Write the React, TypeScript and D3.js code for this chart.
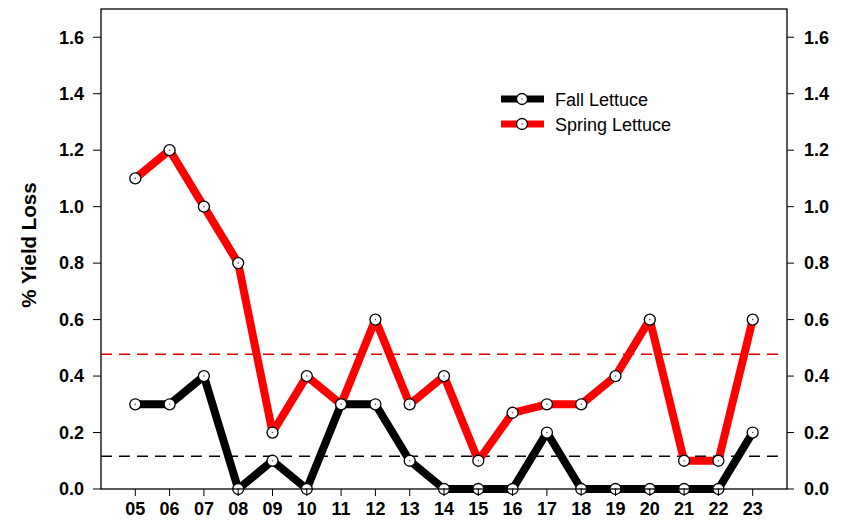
import React from "react";
import * as d3 from "d3";

const years = ["05","06","07","08","09","10","11","12","13","14","15","16","17","18","19","20","21","22","23"];
const fallLettuce = [0.3,0.3,0.4,0,0.1,0,0.3,0.3,0.1,0,0,0,0.2,0,0,0,0,0,0.2];
const springLettuce = [1.1,1.2,1.0,0.8,0.2,0.4,0.3,0.6,0.3,0.4,0.1,0.27,0.3,0.3,0.4,0.6,0.1,0.1,0.6];
const yTicks = [0,0.2,0.4,0.6,0.8,1.0,1.2,1.4,1.6];

const W = 854, H = 520;
const left = 101, right = 787, top = 9, bottom = 489;
const font = "'Liberation Sans', Arial, sans-serif";

export default function App() {
  const x = d3.scaleLinear().domain([4, 24]).range([left, right]);
  const y = d3.scaleLinear().domain([0, 1.7]).range([bottom, top]);
  const xv = (i: number) => x(+years[i]);
  const line = d3.line<number>().x((_, i) => xv(i)).y(d => y(d));
  const fallMean = d3.mean(fallLettuce)!;
  const springMean = d3.mean(springLettuce)!;

  const series = [
    { data: springLettuce, color: "#ff0000" },
    { data: fallLettuce, color: "#000000" },
  ];

  const marker = (cx: number, cy: number, key: string) => (
    <g key={key}>
      <circle cx={cx} cy={cy} r={5.5} fill="#fff" stroke="#000" strokeWidth={1.3} />
      <circle cx={cx} cy={cy} r={0.8} fill="#555" />
    </g>
  );

  return (
    <svg width={W} height={H} style={{ position: "absolute", left: 0, top: 0 }} fontFamily={font}>
      <rect x={0} y={0} width={W} height={H} fill="#fff" />
      {/* mean lines */}
      <line x1={left} x2={right - 3} y1={y(springMean)} y2={y(springMean)} stroke="#e00000" strokeWidth={1.5} strokeDasharray="11,7" />
      <line x1={left} x2={right - 3} y1={y(fallMean)} y2={y(fallMean)} stroke="#000" strokeWidth={1.5} strokeDasharray="11,7" />
      {/* series */}
      {series.map((s, si) => (
        <path key={si} d={line(s.data)!} fill="none" stroke={s.color} strokeWidth={8} strokeLinejoin="bevel" />
      ))}
      {series.map((s, si) => s.data.map((d, i) => marker(xv(i), y(d), `m${si}-${i}`)))}
      {/* frame */}
      <rect x={left} y={top} width={right - left} height={bottom - top} fill="none" stroke="#000" strokeWidth={1.3} />
      {/* y ticks */}
      {yTicks.map(t => (
        <g key={t}>
          <line x1={left - 8} x2={left} y1={y(t)} y2={y(t)} stroke="#000" strokeWidth={1} />
          <text x={84} y={y(t)} dy="0.35em" textAnchor="end" fontSize={18} fontWeight="bold">{t.toFixed(1)}</text>
          <line x1={right} x2={right + 7} y1={y(t)} y2={y(t)} stroke="#000" strokeWidth={1} />
          <text x={804} y={y(t)} dy="0.35em" textAnchor="start" fontSize={18} fontWeight="bold">{t.toFixed(1)}</text>
        </g>
      ))}
      {/* x ticks */}
      {years.map((yr, i) => (
        <g key={yr}>
          <line x1={xv(i)} x2={xv(i)} y1={bottom} y2={bottom + 7} stroke="#000" strokeWidth={1} />
          <text x={xv(i)} y={515} textAnchor="middle" fontSize={18} fontWeight="bold">{yr}</text>
        </g>
      ))}
      {/* y label */}
      <text transform={`translate(36,245) rotate(-90)`} textAnchor="middle" fontSize={20.5} fontWeight="bold">% Yield Loss</text>
      {/* legend */}
      {[{ label: "Fall Lettuce", color: "#000", yy: 99, ty: 106 }, { label: "Spring Lettuce", color: "#ff0000", yy: 124, ty: 131 }].map(l => (
        <g key={l.label}>
          <line x1={501} x2={544} y1={l.yy} y2={l.yy} stroke={l.color} strokeWidth={7} />
          {marker(522, l.yy, "lg" + l.label)}
          <text x={555} y={l.ty} fontSize={18}>{l.label}</text>
        </g>
      ))}
    </svg>
  );
}
